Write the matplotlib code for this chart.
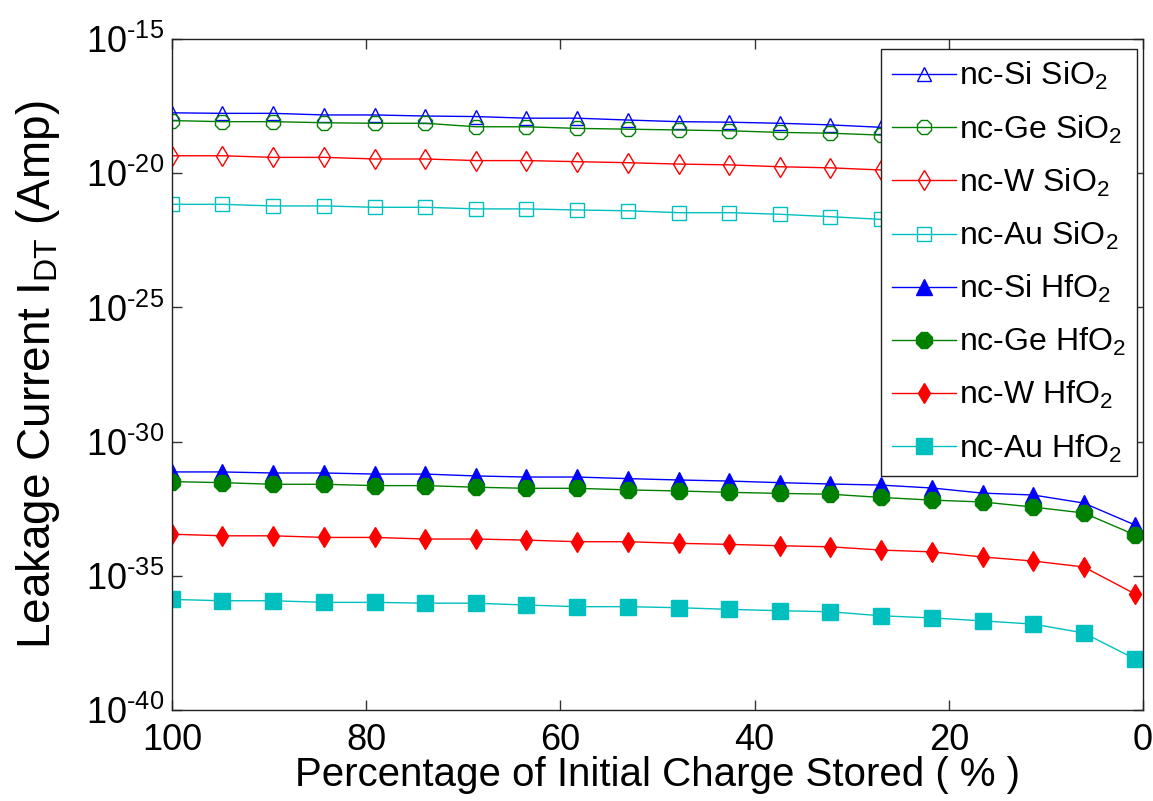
import matplotlib
matplotlib.use("Agg")
import matplotlib.pyplot as plt
import numpy as np

# ---- data ----
charge_pct = [100, 94.8, 89.6, 84.3, 79.1, 73.9, 68.7, 63.5, 58.3, 53.0,
              47.8, 42.6, 37.4, 32.2, 27.0, 21.7, 16.5, 11.3, 6.1, 0.8]

# log10 of leakage current (A)
si_sio2_log = [-17.75, -17.77, -17.77, -17.83, -17.83, -17.87, -17.89, -17.95,
               -17.95, -18.02, -18.08, -18.10, -18.14, -18.20, -18.29]
ge_sio2_log = [-18.04, -18.08, -18.08, -18.12, -18.14, -18.14, -18.27, -18.27,
               -18.33, -18.36, -18.39, -18.42, -18.48, -18.51, -18.58]
w_sio2_log = [-19.35, -19.35, -19.41, -19.41, -19.47, -19.47, -19.53, -19.53,
              -19.57, -19.61, -19.66, -19.69, -19.76, -19.80, -19.88]
au_sio2_log = [-21.16, -21.16, -21.22, -21.22, -21.27, -21.27, -21.33, -21.33,
               -21.37, -21.40, -21.47, -21.47, -21.53, -21.62, -21.72]

si_hfo2_log = [-31.13, -31.13, -31.17, -31.17, -31.21, -31.21, -31.28, -31.32,
               -31.32, -31.38, -31.43, -31.47, -31.53, -31.58, -31.62, -31.73,
               -31.92, -31.99, -32.29, -33.11]
ge_hfo2_log = [-31.49, -31.53, -31.59, -31.59, -31.64, -31.64, -31.70, -31.74,
               -31.74, -31.80, -31.84, -31.89, -31.93, -31.96, -32.08, -32.18,
               -32.25, -32.44, -32.66, -33.48]
w_hfo2_log = [-33.45, -33.51, -33.51, -33.57, -33.57, -33.63, -33.63, -33.67,
              -33.73, -33.73, -33.79, -33.83, -33.88, -33.92, -34.04, -34.11,
              -34.30, -34.45, -34.67, -35.68]
au_hfo2_log = [-35.88, -35.93, -35.93, -35.99, -35.99, -36.02, -36.02, -36.09,
               -36.15, -36.15, -36.19, -36.25, -36.30, -36.34, -36.49, -36.57,
               -36.68, -36.80, -37.13, -38.10]

labels = ["nc-Si SiO$_2$", "nc-Ge SiO$_2$", "nc-W SiO$_2$", "nc-Au SiO$_2$",
          "nc-Si HfO$_2$", "nc-Ge HfO$_2$", "nc-W HfO$_2$", "nc-Au HfO$_2$"]
yticks_exp = [-40, -35, -30, -25, -20, -15]
ytick_labels = ["$10^{\u2010" + str(-e) + "}$" for e in yticks_exp]
xticks = [100, 80, 60, 40, 20, 0]

# ---- style ----
plt.rcParams['font.family'] = ['Liberation Sans', 'DejaVu Sans']
plt.rcParams['mathtext.fontset'] = 'custom'
plt.rcParams['mathtext.rm'] = 'Liberation Sans'
plt.rcParams['mathtext.it'] = 'Liberation Sans'
plt.rcParams['mathtext.bf'] = 'Liberation Sans'
plt.rcParams['mathtext.default'] = 'regular'

BLUE = (0, 0, 1)
GREEN = (0, 0.5, 0)
RED = (1, 0, 0)
CYAN = (0, 0.75, 0.75)

fig = plt.figure(figsize=(11.53, 8.01), dpi=100)
ax = fig.add_axes([172/1153, 1 - 710/801, (1143-172)/1153, (710-39)/801])

x = np.array(charge_pct)
n_sio2 = len(si_sio2_log)

series = [
    (x[:n_sio2], si_sio2_log, BLUE, '^', 10.5, 'none'),
    (x[:n_sio2], ge_sio2_log, GREEN, '8', 11.5, 'none'),
    (x[:n_sio2], w_sio2_log, RED, 'd', 10, 'none'),
    (x[:n_sio2], au_sio2_log, CYAN, 's', 10.5, 'none'),
    (x, si_hfo2_log, BLUE, '^', 11, 'full'),
    (x, ge_hfo2_log, GREEN, '8', 13, 'full'),
    (x, w_hfo2_log, RED, 'd', 10.5, 'full'),
    (x, au_hfo2_log, CYAN, 's', 11, 'full'),
]

for (xs, ylog, col, mk, ms, fill), lab in zip(series, labels):
    ys = 10.0 ** np.array(ylog)
    ax.plot(xs, ys, color=col, lw=1.0, marker=mk, markersize=ms,
            markerfacecolor=(col if fill == 'full' else 'none'),
            markeredgecolor=col, markeredgewidth=1.0, label=lab)

ax.set_yscale('log')
ax.set_xlim(100, 0)
ax.set_ylim(1e-40, 1e-15)
ax.set_yticks([10.0 ** e for e in yticks_exp])
ax.set_yticklabels(ytick_labels)
ax.yaxis.set_minor_locator(matplotlib.ticker.NullLocator())
ax.set_xticks(xticks)

ax.tick_params(direction='in', length=7, width=1, top=True, right=True,
               labelsize=26, color='#333333')
ax.tick_params(axis='x', pad=9)
ax.tick_params(axis='y', pad=6)
for sp in ax.spines.values():
    sp.set_linewidth(1.0)
    sp.set_color('#222222')

ax.set_xlabel("Percentage of Initial Charge Stored ( % )", fontsize=29, labelpad=-1)
ax.set_ylabel("Leakage Current I$_{DT}$ (Amp)", fontsize=33)
ax.yaxis.set_label_coords(-0.113, 0.5)

leg = ax.legend(loc='upper right', bbox_to_anchor=(0.9938, 0.985),
                borderaxespad=0, fontsize=23, handlelength=2.0,
                handletextpad=0.1, labelspacing=0.66, borderpad=0.35,
                fancybox=False, framealpha=1, edgecolor='#222222')
leg.get_frame().set_linewidth(1.0)

fig.savefig("out.png", dpi=100)
